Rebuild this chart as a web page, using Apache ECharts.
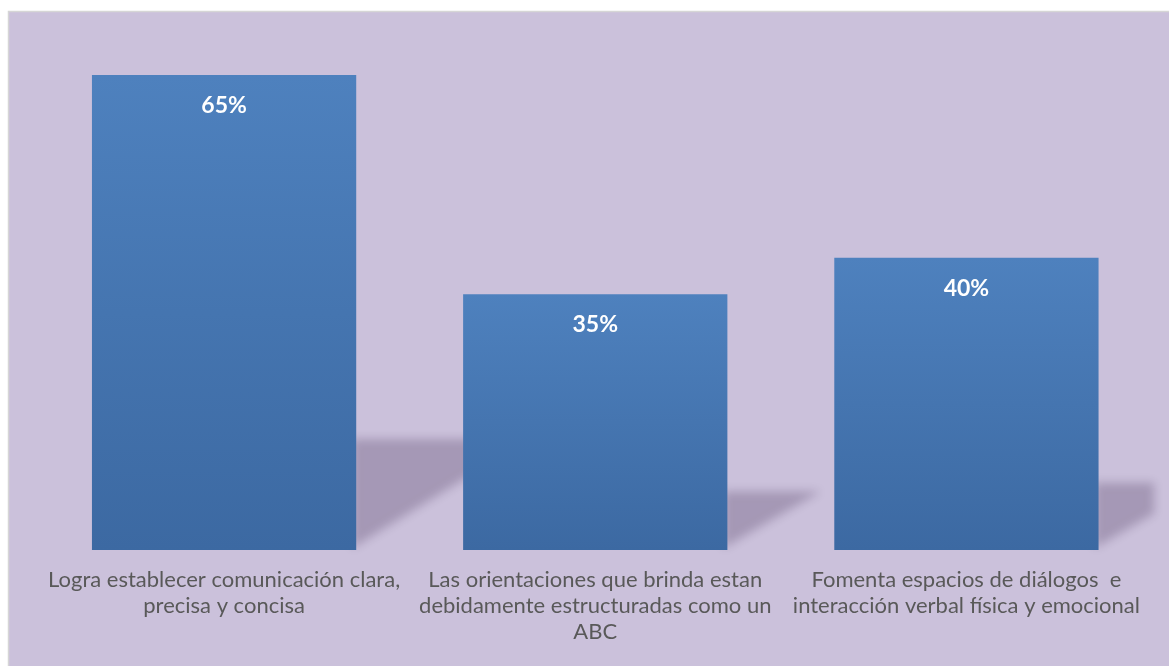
<!DOCTYPE html>
<html>
<head>
<meta charset="utf-8">
<script src="https://cdn.jsdelivr.net/npm/echarts@6/dist/echarts.min.js"></script>
<style>
html,body{margin:0;padding:0;background:#fff;}
#chart{width:1169px;height:666px;}
</style>
</head>
<body>
<div id="chart"></div>
<script>
var categories = [
  'Logra establecer comunicación clara,\nprecisa y concisa',
  'Las orientaciones que brinda estan\ndebidamente estructuradas como un\nABC',
  'Fomenta espacios de diálogos  e\ninteracción verbal física y emocional'
];
var values = [65, 35, 40];

var chart = echarts.init(document.getElementById('chart'));
var FONT = 'Lato, "Noto Sans", sans-serif';
var OFF = 3000;

chart.setOption({
  backgroundColor: '#ffffff',
  animation: false,
  graphic: [{
    type: 'rect', z: -10, silent: true,
    shape: {x: 8.5, y: 11.5, width: 1170, height: 660},
    style: {fill: '#CBC1DB', stroke: '#D6D6D6', lineWidth: 1.5}
  }],
  grid: {left: 38.5, right: 17, top: 38.5, bottom: 116},
  xAxis: {
    type: 'category',
    data: categories,
    axisLine: {show: false},
    axisTick: {show: false},
    axisLabel: {
      interval: 0, margin: 17,
      color: '#595959', fontSize: 22, fontFamily: FONT,
      lineHeight: 26
    }
  },
  yAxis: {
    type: 'value', min: 0, max: 70,
    show: false, splitLine: {show: false}
  },
  series: [{
    type: 'custom',
    z: 1,
    silent: true,
    data: values.map(function (v, i) { return [i, v]; }),
    renderItem: function (params, api) {
      var idx = api.value(0);
      var top = api.coord([idx, api.value(1)]);
      var base = api.coord([idx, 0]);
      var band = api.size([1, 0])[0];
      var bw = band * (1 - 0.288);
      var xr = top[0] + bw / 2;
      var h = (base[1] - top[1]) * 0.24;
      var w = h / 0.66;
      var right = params.coordSys.x + params.coordSys.width + 2;
      var yT = base[1] - h + 3;
      var pts;
      if (xr + w > right) {
        var yCut = yT + (right - xr) * 0.66 * 0; // vertical cut at right edge
        var yDiag = base[1] - (right - xr) * 0.66;
        pts = [[xr - 4, yT], [right, yT], [right, yDiag], [xr - 4, base[1] - 2]];
      } else {
        pts = [[xr - 4, yT], [xr + w, yT], [xr - 4, base[1] - 2]];
      }
      pts = pts.map(function (p) { return [p[0] - OFF, p[1]]; });
      return {
        type: 'polygon',
        shape: {points: pts},
        style: {fill: '#000', shadowBlur: 10, shadowOffsetX: OFF, shadowOffsetY: 0, shadowColor: 'rgba(30,10,50,0.22)'}
      };
    }
  }, {
    type: 'bar',
    z: 3,
    data: values,
    barCategoryGap: '28.8%',
    itemStyle: {
      color: new echarts.graphic.LinearGradient(0, 0, 0, 1, [
        {offset: 0, color: '#4E81BE'},
        {offset: 1, color: '#3C69A2'}
      ])
    },
    label: {
      show: true, position: 'insideTop', distance: 19,
      formatter: '{c}%',
      color: '#ffffff', fontWeight: 'bold', fontSize: 23, fontFamily: FONT
    }
  }]
});
</script>
</body>
</html>
